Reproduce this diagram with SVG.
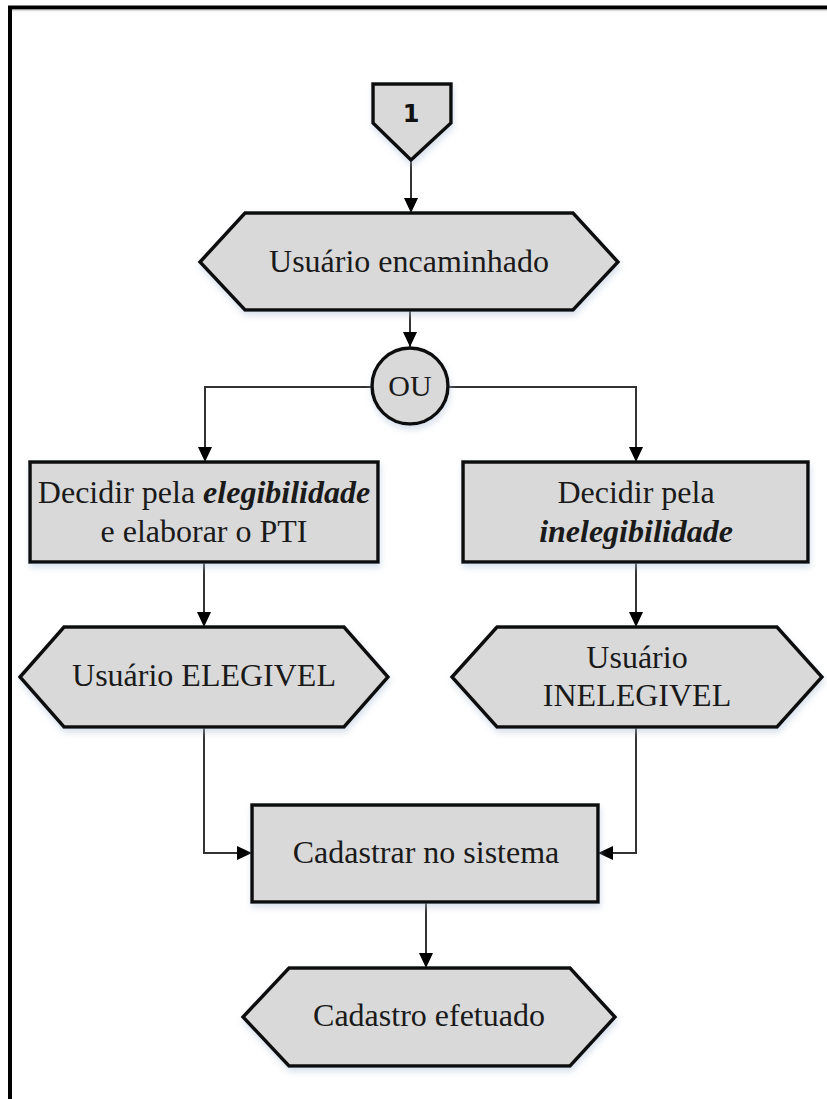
<svg xmlns="http://www.w3.org/2000/svg" width="827" height="1099" viewBox="0 0 827 1099">
  <defs>
    <marker id="arrow" markerUnits="userSpaceOnUse" markerWidth="16" markerHeight="16" viewBox="0 0 16 16" refX="15" refY="8" orient="auto">
      <path d="M0,1 L15,8 L0,15 Z" fill="#000"/>
    </marker>
    <filter id="soft" x="-10%" y="-10%" width="120%" height="135%">
      <feDropShadow dx="1" dy="4" stdDeviation="3" flood-color="#a9bcd6" flood-opacity="0.45"/>
    </filter>
    <style>
      .shape { fill: #d9d9d9; stroke: #111; stroke-width: 3.5; stroke-linejoin: miter; filter: url(#soft); }
      .link { fill: none; stroke: #333; stroke-width: 2; marker-end: url(#arrow); }
      .label { font-family: "Liberation Serif", "Times New Roman", serif; font-size: 32px; fill: #1a1a1a; text-anchor: middle; }
      .em { font-weight: bold; font-style: italic; }
      .num { font-family: "DejaVu Sans", Verdana, sans-serif; font-size: 24px; font-weight: bold; fill: #111; text-anchor: middle; }
    </style>
  </defs>

  <rect width="827" height="1099" fill="#fff"/>

  <!-- page frame (left and top edges) -->
  <g id="frame">
    <line x1="8" y1="7.5" x2="827" y2="7.5" stroke="#000" stroke-width="4"/>
    <line x1="10" y1="6" x2="10" y2="1099" stroke="#000" stroke-width="4"/>
    <line x1="12" y1="10.5" x2="827" y2="10.5" stroke="#dcdcdc" stroke-width="1.5"/>
  </g>

  <!-- connectors -->
  <g id="connectors">
    <path class="link" d="M411 160 V213"/>
    <path class="link" d="M410 310 V347"/>
    <path class="link" d="M372 387 H205 V462"/>
    <path class="link" d="M448 387 H636 V462"/>
    <path class="link" d="M204 562 V627"/>
    <path class="link" d="M636 562 V627"/>
    <path class="link" d="M204 727 V853 H252"/>
    <path class="link" d="M636 727 V853 H598"/>
    <path class="link" d="M426 902 V968"/>
  </g>

  <!-- off-page connector -->
  <g id="node-offpage-1">
    <path class="shape" d="M373 84 H451 V123 L411 160 L373 123 Z"/>
    <text class="num" x="411" y="122">1</text>
  </g>

  <g id="node-usuario-encaminhado">
    <path class="shape" d="M200 262 L245 213 H573 L618 262 L573 310 H245 Z"/>
    <text class="label" x="409" y="272">Usuário encaminhado</text>
  </g>

  <g id="node-ou">
    <circle class="shape" cx="410" cy="386" r="38"/>
    <text class="label" x="410" y="396" style="font-size:30px">OU</text>
  </g>

  <g id="node-elegibilidade">
    <rect class="shape" x="30" y="462" width="348" height="100"/>
    <text class="label" x="204" y="503">Decidir pela <tspan class="em">elegibilidade</tspan></text>
    <text class="label" x="204" y="542">e elaborar o PTI</text>
  </g>

  <g id="node-inelegibilidade">
    <rect class="shape" x="463" y="462" width="345" height="100"/>
    <text class="label" x="636" y="503">Decidir pela</text>
    <text class="label em" x="636" y="542">inelegibilidade</text>
  </g>

  <g id="node-usuario-elegivel">
    <path class="shape" d="M20 677 L64 627 H344 L388 677 L344 727 H64 Z"/>
    <text class="label" x="204" y="686">Usuário ELEGIVEL</text>
  </g>

  <g id="node-usuario-inelegivel">
    <path class="shape" d="M452 677 L497 627 H777 L822 677 L777 727 H497 Z"/>
    <text class="label" x="637" y="668">Usuário</text>
    <text class="label" x="637" y="706">INELEGIVEL</text>
  </g>

  <g id="node-cadastrar">
    <rect class="shape" x="252" y="805" width="346" height="97"/>
    <text class="label" x="426" y="863">Cadastrar no sistema</text>
  </g>

  <g id="node-cadastro-efetuado">
    <path class="shape" d="M243 1017 L289 968 H570 L615 1017 L570 1066 H289 Z"/>
    <text class="label" x="429" y="1026">Cadastro efetuado</text>
  </g>
</svg>
